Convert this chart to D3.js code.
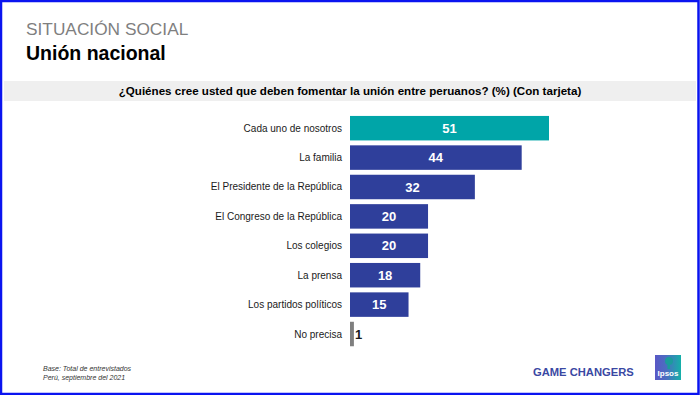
<!DOCTYPE html>
<html>
<head>
<meta charset="utf-8">
<script src="https://cdn.jsdelivr.net/npm/d3@7"></script>
<style>
  html, body { margin: 0; padding: 0; background: #fff; }
  svg { display: block; font-family: "Liberation Sans", Arial, sans-serif; }
</style>
</head>
<body>
<script>
// data
const categories = [
  "Cada uno de nosotros",
  "La familia",
  "El Presidente de la República",
  "El Congreso de la República",
  "Los colegios",
  "La prensa",
  "Los partidos políticos",
  "No precisa"
]
const values = [51, 44, 32, 20, 20, 18, 15, 1]
const barKind = ["highlight", "base", "base", "base", "base", "base", "base", "none"]

const width = 700
const height = 395
const colors = { highlight: "#00a5a8", base: "#2f3f9b", none: "#7f7f7f" }

const svg = d3.select("body").append("svg")
  .attr("width", width)
  .attr("height", height)

// frame
svg.append("rect")
  .attr("x", 1).attr("y", 1)
  .attr("width", width - 2.5).attr("height", height - 2)
  .attr("fill", "#fff")
  .attr("stroke", "#0a14f0")
  .attr("stroke-width", 2.5)

// headings
svg.append("text")
  .attr("x", 26).attr("y", 35)
  .attr("fill", "#7f7f7f")
  .style("font-size", "17.3px")
  .text("SITUACIÓN SOCIAL")

svg.append("text")
  .attr("x", 26).attr("y", 60)
  .attr("fill", "#000")
  .style("font-size", "19.5px")
  .style("font-weight", "bold")
  .text("Unión nacional")

// question band
svg.append("rect")
  .attr("x", 4).attr("y", 81)
  .attr("width", 692).attr("height", 20)
  .attr("fill", "#efefef")

svg.append("text")
  .attr("x", 350).attr("y", 95)
  .attr("text-anchor", "middle")
  .attr("fill", "#000")
  .style("font-size", "11.6px")
  .style("font-weight", "bold")
  .text("¿Quiénes cree usted que deben fomentar la unión entre peruanos? (%) (Con tarjeta)")

// scales
const x = d3.scaleLinear().domain([0, 51]).range([350, 549])
const y = d3.scaleBand()
  .domain(categories)
  .range([113.5, 348.7])
  .paddingInner(0.167)
  .paddingOuter(0.083)

const rows = categories.map((c, i) => ({ name: c, value: values[i], kind: barKind[i] }))

const g = svg.append("g")

g.selectAll("rect")
  .data(rows)
  .join("rect")
  .attr("x", x(0))
  .attr("y", d => y(d.name))
  .attr("width", d => x(d.value) - x(0))
  .attr("height", y.bandwidth())
  .attr("fill", d => colors[d.kind])

// category labels
g.selectAll("text.cat")
  .data(rows)
  .join("text")
  .attr("class", "cat")
  .attr("x", 342)
  .attr("y", d => y(d.name) + y.bandwidth() / 2)
  .attr("dy", "0.35em")
  .attr("text-anchor", "end")
  .attr("fill", "#1a1a1a")
  .style("font-size", "10px")
  .text(d => d.name)

// value labels
g.selectAll("text.val")
  .data(rows)
  .join("text")
  .attr("class", "val")
  .attr("x", d => d.value > 5 ? (x(0) + x(d.value)) / 2 : x(d.value) + 1)
  .attr("y", d => y(d.name) + y.bandwidth() / 2)
  .attr("dy", "0.36em")
  .attr("text-anchor", d => d.value > 5 ? "middle" : "start")
  .attr("fill", d => d.value > 5 ? "#fff" : "#1a1a1a")
  .style("font-size", "13px")
  .style("font-weight", "bold")
  .text(d => d.value)

// footer
const foot = svg.append("g")
  .attr("fill", "#333")
  .style("font-size", "7px")
  .style("font-style", "italic")
foot.append("text").attr("x", 43).attr("y", 371).text("Base: Total de entrevistados")
foot.append("text").attr("x", 43).attr("y", 380).text("Perú, septiembre del 2021")

svg.append("text")
  .attr("x", 533).attr("y", 375.5)
  .attr("fill", "#3a48a3")
  .style("font-size", "11.2px")
  .style("font-weight", "bold")
  .text("GAME CHANGERS")

// logo
const defs = svg.append("defs")
const grad = defs.append("linearGradient").attr("id", "lg")
grad.append("stop").attr("offset", "0%").attr("stop-color", "#5a57c6")
grad.append("stop").attr("offset", "45%").attr("stop-color", "#4a6fc0")
grad.append("stop").attr("offset", "100%").attr("stop-color", "#14b0a8")

const logo = svg.append("g").attr("transform", "translate(655,355)")
logo.append("rect").attr("width", 26).attr("height", 25).attr("fill", "url(#lg)")
logo.append("circle").attr("cx", 14).attr("cy", 6).attr("r", 4).attr("fill", "#1a9c9c")
logo.append("rect").attr("x", 12.5).attr("y", 9).attr("width", 2.5).attr("height", 5).attr("fill", "#1a9c9c")
logo.append("text")
  .attr("x", 13).attr("y", 21)
  .attr("text-anchor", "middle")
  .attr("fill", "#fff")
  .style("font-size", "8px")
  .style("font-weight", "bold")
  .text("Ipsos")
</script>
</body>
</html>
